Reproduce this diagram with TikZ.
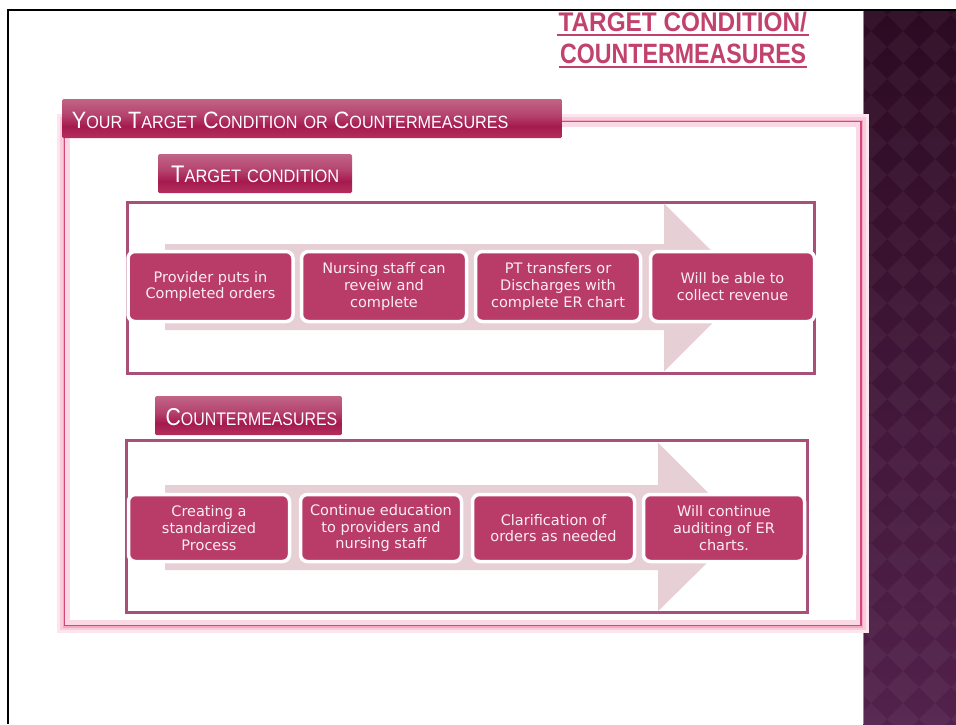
\documentclass[tikz,border=0pt]{standalone}
\usepackage{fontspec}
\usepackage{graphicx}
\setmainfont{Liberation Sans}
\newfontfamily\stepfont{DejaVu Sans}
\usetikzlibrary{calc}

% palette
\definecolor{rose}{HTML}{B93C68}
\definecolor{titlerose}{HTML}{C2426E}
\definecolor{mauve}{HTML}{A8507A}
\definecolor{arrowpink}{HTML}{E7CFD6}
\definecolor{glowpink}{HTML}{F5A9C4}
\definecolor{glowline}{HTML}{D4477A}
\definecolor{boxtext}{HTML}{FBEDF3}
\definecolor{panelTop}{HTML}{2C0A22}
\definecolor{panelBot}{HTML}{52214C}
\definecolor{glossHigh}{HTML}{C97E98}
\definecolor{glossMid}{HTML}{B5446E}
\definecolor{glossDeep}{HTML}{A51A4E}
\definecolor{glossLow}{HTML}{C4466F}

% glossy banner fill, light on top, deep crimson band below the middle
\pgfdeclareverticalshading{tabgloss}{100bp}{color(0bp)=(glossLow); color(8bp)=(glossLow);
  color(40bp)=(glossDeep); color(55bp)=(glossMid); color(90bp)=(glossHigh); color(100bp)=(glossHigh)}

% small letters of the faked small caps
\newcommand{\capsm}[1]{{\fontsize{15}{15}\selectfont #1}}

\tikzset{
  container/.style={draw=mauve, line width=3pt, fill=white, inner sep=0pt},
  stepbox/.style={fill=rose, draw=white, line width=3.5pt, rounded corners=7pt,
    align=center, text=boxtext, inner sep=2pt,
    font=\stepfont\fontsize{14.5}{16.7}\selectfont},
  glosstab/.style={shade, shading=tabgloss, rounded corners=1.5pt, inner sep=0pt},
  tablabel/.style={anchor=base west, inner sep=0pt, text=white,
    font=\fontsize{20}{20}\selectfont},
  flow/.style={fill=arrowpink},
  titletext/.style={anchor=base west, inner sep=0pt, text=titlerose, font=\bfseries},
  underline/.style={draw=titlerose, line width=2.3pt}
}

\begin{document}
\begin{tikzpicture}[x=1pt, y=-1pt]
\useasboundingbox (0,0) rectangle (956,724);
\fill[white] (0,0) rectangle (956,724);

% side panel with diamond pattern
\shade[top color=panelTop, bottom color=panelBot] (863,10) rectangle (956,724);
\begin{scope}
  \clip (863,10) rectangle (956,724);
  \foreach \i in {-1,...,3}{
    \foreach \j in {-18,...,6}{
      \fill[white, opacity=.045] ({871+32*\i},{559+32*\j}) ++(0,-16) -- ++(16,16) -- ++(-16,16) -- ++(-16,-16) -- cycle;
    }
  }
\end{scope}
\draw[black!45, line width=.6pt] (863,10) -- (863,724);

% glowing outer frame
\draw[glowpink!30, line width=15pt] (64.5,121.5) rectangle (861,625.5);
\draw[glowpink!60, line width=9pt] (64.5,121.5) rectangle (861,625.5);
\draw[glowpink, line width=4pt] (64.5,121.5) rectangle (861,625.5);
\fill[white] (69,126) rectangle (856.5,621);
\draw[glowpink!45, line width=5pt] (67.5,124.5) rectangle (858,622.5);
\draw[glowline, line width=1.2pt] (64.5,121.5) rectangle (861,625.5);

% target condition panel
\node[container, minimum width=687.5pt, minimum height=171pt] (tcpanel) at (470.75,287.5) {};
\fill[flow] (165,244) -- (664,244) -- (664,203.5) -- (748,287.5) -- (664,371.5) -- (664,330) -- (165,330) -- cycle;
\node[stepbox, minimum width=165pt, minimum height=70pt] (tc1) at (210.5,286.5) {Provider puts in\\Completed orders};
\node[stepbox, minimum width=165pt, minimum height=70pt] (tc2) at (384,286.5) {Nursing staff can\\reveiw and\\complete};
\node[stepbox, minimum width=165pt, minimum height=70pt] (tc3) at (558,286.5) {PT transfers or\\Discharges with\\complete ER chart};
\node[stepbox, minimum width=164pt, minimum height=70pt] (tc4) at (732.5,286.5) {Will be able to\\collect revenue};

% countermeasures panel
\node[container, minimum width=681pt, minimum height=172pt] (cmpanel) at (467.2,526.7) {};
\fill[flow] (165,485) -- (658,485) -- (658,442.5) -- (743,527.5) -- (658,611.2) -- (658,570) -- (165,570) -- cycle;
\node[stepbox, minimum width=161pt, minimum height=67pt] (cm1) at (209,528) {Creating a\\standardized\\Process};
\node[stepbox, minimum width=161pt, minimum height=67pt] (cm2) at (381,528) {Continue education\\to providers and\\nursing staff};
\node[stepbox, minimum width=162pt, minimum height=67pt] (cm3) at (553.5,528) {Clarification of\\orders as needed};
\node[stepbox, minimum width=161pt, minimum height=67pt] (cm4) at (724,528) {Will continue\\auditing of ER\\charts.};

% banners
\node[glosstab, minimum width=500pt, minimum height=39pt] (hdr) at (312,118.5) {};
\node[tablabel] (hdrtext) at (71.7,128.3)
  {\resizebox{436.5pt}{16.5pt}{Y\capsm{OUR} T\capsm{ARGET} C\capsm{ONDITION} \capsm{OR} C\capsm{OUNTERMEASURES}}};
\node[glosstab, minimum width=194pt, minimum height=39pt] (tctab) at (255,173.5) {};
\node[tablabel] (tctabtext) at (171,182.2)
  {\resizebox{168pt}{16.5pt}{T\capsm{ARGET} \capsm{CONDITION}}};
\node[glosstab, minimum width=187pt, minimum height=39pt] (cmtab) at (248.5,415.5) {};
\node[tablabel] (cmtabtext) at (165.5,425.6)
  {\resizebox{171.5pt}{17pt}{C\capsm{OUNTERMEASURES}}};

% slide title
\node[titletext] (ttl1) at (558.3,31.7) {\resizebox{248.5pt}{19.5pt}{TARGET CONDITION/}};
\node[titletext] (ttl2) at (560,63.3) {\resizebox{246pt}{19.5pt}{COUNTERMEASURES}};
\draw[underline] ($(ttl1.base west)+(-1.6,3)$) -- ($(ttl1.base west)+(251,3)$);
\draw[underline] ($(ttl2.base west)+(-0.7,3.7)$) -- ($(ttl2.base west)+(247.3,3.7)$);

% slide frame
\draw[black, line width=2pt] (8.3,724) -- (8.3,10) -- (956,10);
\end{tikzpicture}
\end{document}
